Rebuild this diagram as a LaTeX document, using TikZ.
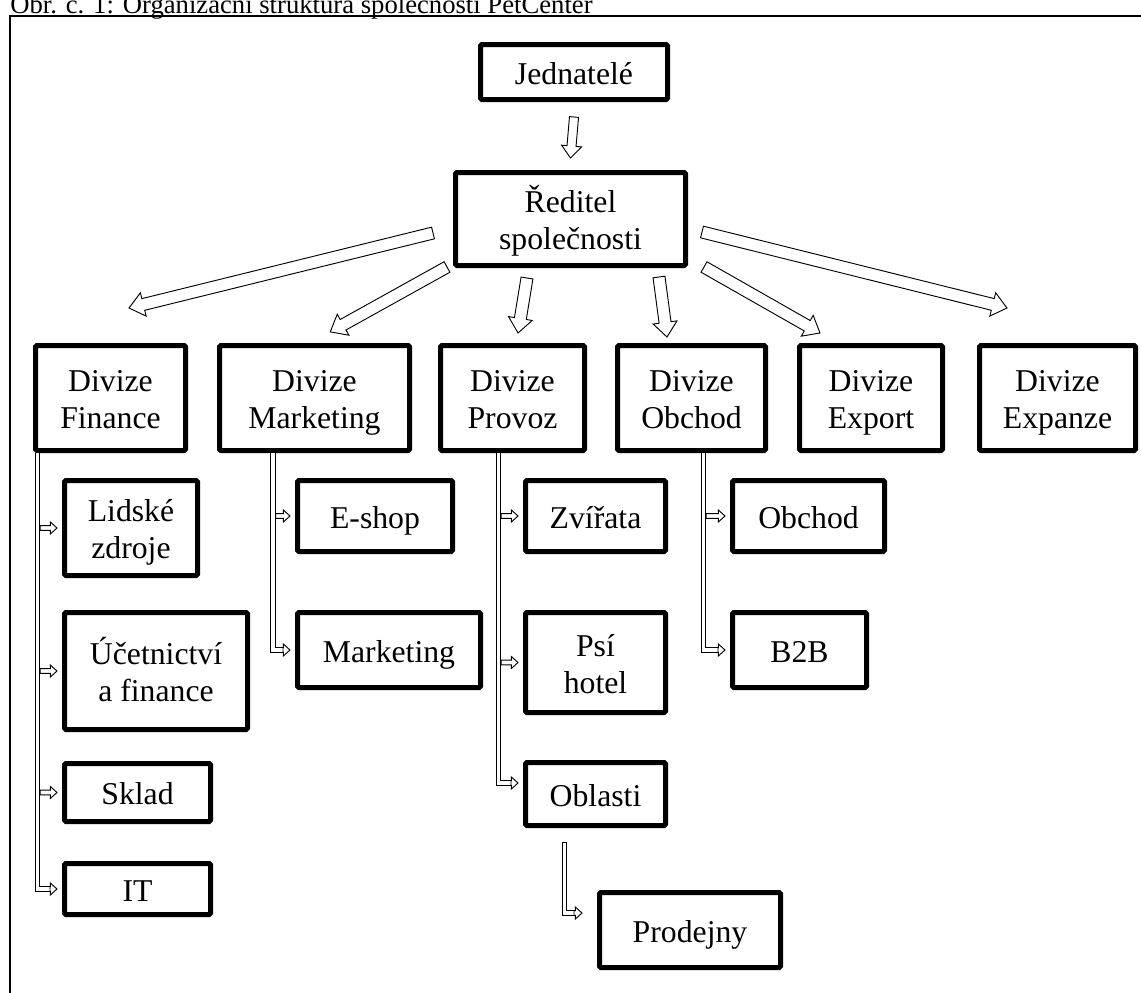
\documentclass[tikz,border=0pt]{standalone}
\usepackage{fontspec}
\setmainfont{Liberation Serif}
\usetikzlibrary{calc}
\tikzset{
	box/.style={draw, line width=3.75pt, rounded corners=1pt, inner sep=0pt, align=center, text height=21pt, text depth=3pt, font=\fontsize{23.8}{27.75}\selectfont},
	two/.style={text height=48.75pt},
	div/.style={box, two, minimum height=78.75pt},
	hollowarr/.style n args={5}{draw, fill=white, line width=0.7pt, line join=miter,
		to path={let \p1=(\tikztostart), \p2=(\tikztotarget),
			\n1={atan2(\y2-\y1,\x2-\x1)}, \n2={veclen(\x2-\x1,\y2-\y1)-#5} in
			{[shift={(\p1)}, rotate=\n1] (#4,-#1) -- ({\n2*1pt-#3},-#1) -- ({\n2*1pt-#3},-#2) -- ({\n2*1pt},0pt) -- ({\n2*1pt-#3},#2) -- ({\n2*1pt-#3},#1) -- (#4,#1) -- cycle}}},
	bigarr/.style={hollowarr={4.5pt}{9pt}{11pt}{0pt}{0pt}},
	downarr/.style={hollowarr={3.4pt}{7.5pt}{9pt}{0pt}{0pt}},
	brarr/.style={hollowarr={1.75pt}{4.5pt}{5pt}{2pt}{3.75pt}},
	elbarr/.style={hollowarr={1.75pt}{4.5pt}{5pt}{0pt}{3.75pt}},
	trunk/.style={draw, line width=0.6pt, double=white, double distance=2.9pt}
}

\begin{document}
\begin{tikzpicture}[x=0.75pt, y=-0.75pt]
	\useasboundingbox (0,0) rectangle (1141,992);
	\node[anchor=base west, inner sep=0pt, font=\fontsize{20}{23}\selectfont] (cap) at (10,13) {Obr. č. 1: Organizační struktura společnosti PetCenter};
	\draw[line width=1.5pt] (10,16) rectangle (1200,1050);

		\node[box, minimum width=140.25pt, minimum height=41.25pt] (jed) at (574,72) {Jednatelé};
		\node[box, two, minimum width=172.5pt, minimum height=69.75pt] (red) at (570.5,219) {Ředitel\\společnosti};

		\node[div, minimum width=112.5pt] (fin) at (110.5,398) {Divize\\Finance};
		\node[div, minimum width=142.5pt] (mkt) at (314.5,398) {Divize\\Marketing};
		\node[div, minimum width=108pt] (prov) at (512.5,398) {Divize\\Provoz};
		\node[div, minimum width=111pt] (obch) at (691.5,398) {Divize\\Obchod};
		\node[div, minimum width=107.25pt] (exp) at (871,398) {Divize\\Export};
		\node[div, minimum width=117pt] (expz) at (1057.5,398) {Divize\\Expanze};

		\node[box, two, minimum width=99.75pt, minimum height=71.25pt] (lid) at (131,528) {Lidské\\zdroje};
		\node[box, two, minimum width=137.25pt, minimum height=87.75pt] (uct) at (156,671) {Účetnictví\\a finance};
		\node[box, minimum width=109.5pt, minimum height=43.5pt] (skl) at (137.5,792.5) {Sklad};
		\node[box, minimum width=109.5pt, minimum height=38.25pt] (it) at (137.5,889) {IT};

		\node[box, minimum width=116.25pt, minimum height=53.25pt] (esh) at (375,516) {E-shop};
		\node[box, minimum width=137.25pt, minimum height=56.25pt] (mk2) at (389,650) {Marketing};

		\node[box, minimum width=105pt, minimum height=53.25pt] (zvi) at (595.5,516) {Zvířata};
		\node[box, two, minimum width=105pt, minimum height=75pt] (psi) at (595.5,662.5) {Psí\\hotel};
		\node[box, minimum width=105pt, minimum height=47.25pt] (obl) at (595.5,794) {Oblasti};
		\node[box, minimum width=135.75pt, minimum height=56.25pt] (prod) at (690,930) {Prodejny};

		\node[box, minimum width=114pt, minimum height=53.25pt] (ob2) at (808.5,516) {Obchod};
		\node[box, minimum width=100.5pt, minimum height=56.25pt] (b2b) at (799.5,650) {B2B};

	\draw[downarr] ($(jed.south)+(0,15)$) to ($(red.north)+(0,-12)$);

	\draw[bigarr] ($(red.west)+(-20,14)$) to ($(fin.north)+(18.5,-35)$);
	\draw[bigarr] ($(red.south west)+(-6,-1)$) to ($(mkt.north)+(15.5,-11)$);
	\draw[bigarr] ($(red.south)+(-43.5,10)$) to ($(prov.north)+(5.5,-10)$);
	\draw[bigarr] ($(red.south)+(88.5,9)$) to ($(obch.north)+(-24.5,-6)$);
	\draw[bigarr] ($(red.south east)+(16,-1)$) to ($(exp.north)+(-51,-10)$);
	\draw[bigarr] ($(red.east)+(14,13)$) to ($(expz.north)+(-50.5,-35)$);

	\draw[trunk] (37.5,0 |- fin.south) |- ($(it.west)+(-12,0)$);
	\draw[brarr] (37.5,0 |- lid.west) to (lid.west);
	\draw[brarr] (37.5,0 |- uct.west) to (uct.west);
	\draw[brarr] (37.5,0 |- skl.west) to (skl.west);
	\draw[elbarr] ($(it.west)+(-12,0)$) to (it.west);

	\draw[trunk] (273,0 |- mkt.south) |- ($(mk2.west)+(-12,0)$);
	\draw[brarr] (273,0 |- esh.west) to (esh.west);
	\draw[elbarr] ($(mk2.west)+(-12,0)$) to (mk2.west);

	\draw[trunk] (498.5,0 |- prov.south) |- ($(obl.west)+(-12,-11)$);
	\draw[brarr] (498.5,0 |- zvi.west) to (zvi.west);
	\draw[brarr] (498.5,0 |- psi.west) to (psi.west);
	\draw[elbarr] ($(obl.west)+(-12,-11)$) to ($(obl.west)+(0,-11)$);

	\draw[trunk] (703.5,0 |- obch.south) |- ($(b2b.west)+(-12,0)$);
	\draw[brarr] (703.5,0 |- ob2.west) to (ob2.west);
	\draw[elbarr] ($(b2b.west)+(-12,0)$) to (b2b.west);

	\coordinate (ptop) at ($(564.5,0 |- obl.south)+(0,14)$);
	\draw[trunk] (ptop) |- ($(prod.west)+(-23,-17)$);
	\draw[line width=0.6pt] ($(ptop)+(-2.05pt,0)$) -- ($(ptop)+(2.05pt,0)$);
	\draw[elbarr] ($(prod.west)+(-23,-17)$) to ($(prod.west)+(-10,-17)$);
\end{tikzpicture}
\end{document}
